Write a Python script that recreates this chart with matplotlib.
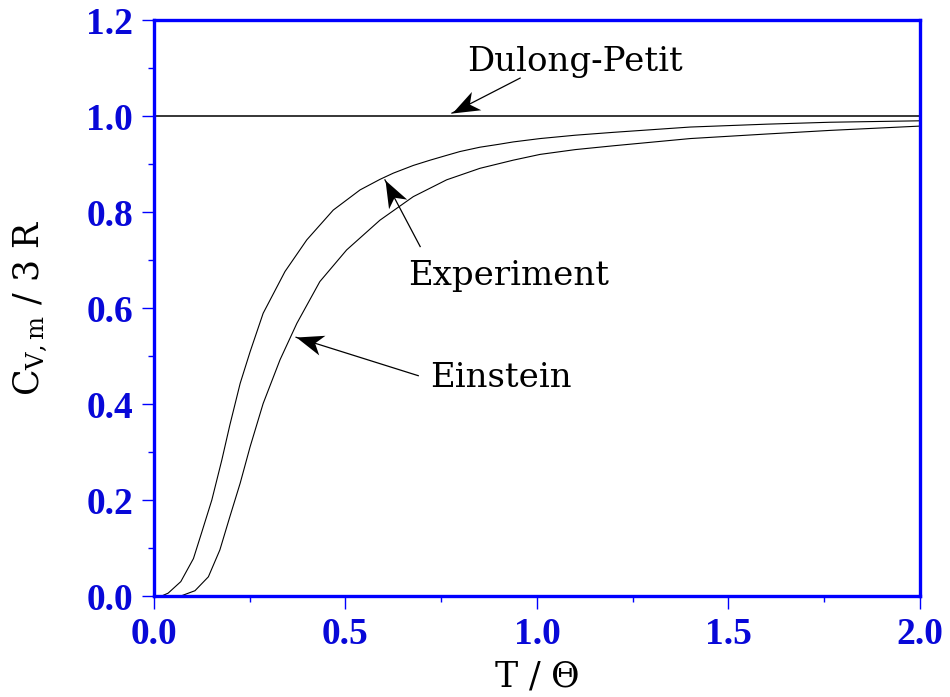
import numpy as np
import matplotlib.pyplot as plt
from matplotlib.path import Path
from matplotlib.markers import MarkerStyle
from matplotlib.transforms import Affine2D

plt.rcParams['mathtext.fontset'] = 'custom'
plt.rcParams['mathtext.rm'] = 'DejaVu Serif'
plt.rcParams['mathtext.it'] = 'DejaVu Serif:italic'

# reduced temperature T/Theta and molar heat capacity C_V,m / 3R
t_exp = [0.0, 0.02, 0.037, 0.070, 0.103, 0.124, 0.151, 0.177, 0.198, 0.225, 0.251,
         0.285, 0.342, 0.399, 0.468, 0.538, 0.590, 0.625, 0.677, 0.721, 0.764,
         0.799, 0.851, 0.9, 0.938, 1.008, 1.1, 1.2, 1.4, 1.6, 1.765, 2.0]
cv_exp = [0.0, 0.0, 0.006, 0.030, 0.078, 0.131, 0.200, 0.283, 0.356, 0.443, 0.509,
          0.589, 0.676, 0.742, 0.804, 0.846, 0.868, 0.881, 0.897, 0.908, 0.918,
          0.926, 0.935, 0.941, 0.946, 0.953, 0.960, 0.966, 0.977, 0.983, 0.987, 0.990]

t_ein = [0.0, 0.07, 0.090, 0.107, 0.142, 0.172, 0.198, 0.225, 0.251, 0.285, 0.329,
         0.373, 0.433, 0.503, 0.590, 0.677, 0.764, 0.851, 0.938, 1.008, 1.1, 1.2,
         1.4, 1.6, 1.765, 2.0]
cv_ein = [0.0, 0.0, 0.006, 0.011, 0.040, 0.096, 0.165, 0.235, 0.311, 0.401, 0.492,
          0.568, 0.655, 0.721, 0.783, 0.832, 0.867, 0.891, 0.908, 0.920, 0.930, 0.938,
          0.953, 0.9625, 0.970, 0.979]

dulong_petit = 1.0

# label text, arrow tip, arrow tail and text centre (data units)
notes = ["Dulong-Petit", "Experiment", "Einstein"]
note_tips = [(0.778, 1.006), (0.603, 0.867), (0.371, 0.539)]
note_tails = [(0.956, 1.079), (0.695, 0.728), (0.690, 0.459)]
note_text = [(1.100, 1.112), (0.925, 0.667), (0.905, 0.455)]

blue = '#0000ff'
tickblue = '#0808d8'

# notched arrowhead, tip at the origin pointing along +x
head = Path([(0, 0), (-1, 0.38), (-0.72, 0), (-1, -0.38), (0, 0)],
            [Path.MOVETO, Path.LINETO, Path.LINETO, Path.LINETO, Path.CLOSEPOLY])

fig = plt.figure(figsize=(9.5, 6.97), dpi=100)
ax = fig.add_axes([0.1621, 0.1449, 0.8063, 0.8264])

ax.plot(t_exp, cv_exp, color='black', lw=0.8)
ax.plot(t_ein, cv_ein, color='black', lw=0.8)
ax.axhline(dulong_petit, color='black', lw=1.1)

ax.set_xlim(0, 2.0)
ax.set_ylim(0, 1.2)

for label, tip, tail, pos in zip(notes, note_tips, note_tails, note_text):
    ax.plot([tail[0], tip[0]], [tail[1], tip[1]], color='black', lw=0.9)
    p0 = ax.transData.transform(tail)
    p1 = ax.transData.transform(tip)
    ang = np.degrees(np.arctan2(p1[1] - p0[1], p1[0] - p0[0]))
    m = MarkerStyle(head, transform=Affine2D().rotate_deg(ang))
    ax.plot(tip[0], tip[1], marker=m, markersize=39, color='black',
            markeredgewidth=0, linestyle='none', clip_on=False)
    ax.text(pos[0], pos[1], label, ha='center', va='center',
            fontsize=24.5, family='DejaVu Serif')

ax.set_xticks(np.arange(0, 2.01, 0.5))
ax.set_xticks(np.arange(0, 2.01, 0.25), minor=True)
ax.set_yticks(np.arange(0, 1.21, 0.2))
ax.set_yticks(np.arange(0, 1.21, 0.1), minor=True)
ax.xaxis.set_major_formatter(plt.FormatStrFormatter('%.1f'))
ax.yaxis.set_major_formatter(plt.FormatStrFormatter('%.1f'))

for s in ax.spines.values():
    s.set_color(blue)
    s.set_linewidth(2.4)
ax.tick_params(which='both', direction='out', color=blue, width=1.0)
ax.tick_params(which='major', length=9, pad=6, labelcolor=tickblue, labelsize=27)
ax.tick_params(which='minor', length=4.5)
for lab in ax.get_xticklabels() + ax.get_yticklabels():
    lab.set_family('Liberation Serif')
    lab.set_weight('bold')

ax.set_xlabel(r'T / $\Theta$', fontsize=25, family='DejaVu Serif')
ax.set_ylabel(r'C$_{\mathrm{V,m}}$ / 3 R', fontsize=25, family='DejaVu Serif')
ax.xaxis.set_label_coords(0.5, -0.11)
ax.yaxis.set_label_coords(-0.136, 0.5)

fig.savefig('out.png', dpi=100)
